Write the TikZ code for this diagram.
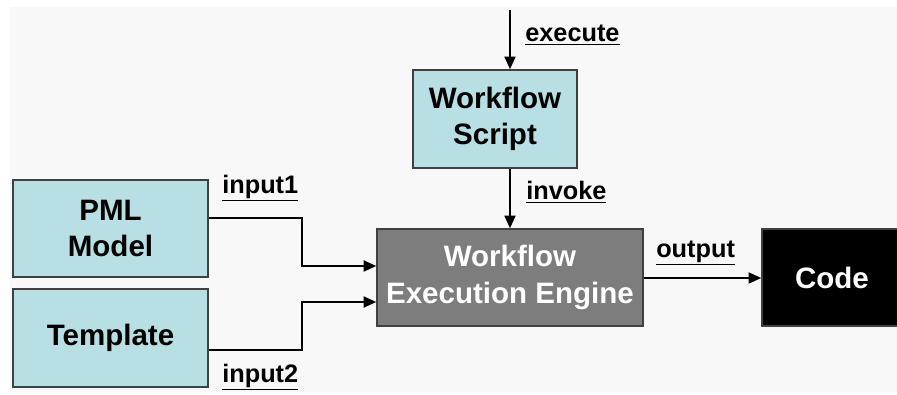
\documentclass[tikz,border=0pt]{standalone}
\usepackage{fontspec}
\setmainfont{Liberation Sans}
\usepackage{tikz}
\usetikzlibrary{positioning, arrows.meta}

\definecolor{boxblue}{RGB}{184,224,228}
\definecolor{enginegray}{RGB}{125,125,125}
\definecolor{bggray}{RGB}{248,248,248}

\tikzset{
    block/.style={draw=black!75, line width=1.2pt, fill=boxblue, align=center,
        inner sep=0pt, font=\fontsize{21}{26}\selectfont\bfseries},
    flow/.style={line width=1.1pt, -{Triangle[length=9pt, width=8pt]}},
    lbl/.style={font=\fontsize{18}{21}\selectfont\bfseries, inner sep=0pt}
}

\begin{document}
\begin{tikzpicture}[x=0.025cm, y=-0.025cm]
    \useasboundingbox (0,0) rectangle (897,395);
    \fill[bggray] (10,7) rectangle (897,392);

    % boxes
    \node[block, minimum width=164*0.025cm, minimum height=98*0.025cm] (script) at (495,119) {Workflow\\Script};
    \node[block, minimum width=195*0.025cm, minimum height=97*0.025cm] (pml) at (110.5,228.5) {PML\\Model};
    \node[block, minimum width=195*0.025cm, minimum height=98*0.025cm] (template) at (110.5,338) {Template};
    \node[block, fill=enginegray, text=white, minimum width=266*0.025cm, minimum height=97*0.025cm] (engine) at (510,277.5) {Workflow\\Execution Engine};
    \node[block, fill=black, text=white, minimum width=140*0.025cm, minimum height=97*0.025cm] (code) at (832,277.5) {Code};

    \coordinate (start) at (510,10);

    % connectors
    \draw[flow] (start) -- (script.north -| start);
    \draw[flow] (script.south -| start) -- (engine.north -| start);
    \draw[flow] (pml.east |- 0,218) -| (302,266) -- (engine.west |- 0,266);
    \draw[flow] (template.east |- 0,350) -| (302,302) -- (engine.west |- 0,302);
    \draw[flow] (engine.east |- 0,278) -- (code.west |- 0,278);

    % labels
    \node[lbl, anchor=west] (lexec) at (525,35) {\underline{execute}};
    \node[lbl, anchor=west] (linv) at (526,192) {\underline{invoke}};
    \node[lbl, anchor=west] (lin1) at (222,188) {\underline{input1}};
    \node[lbl, anchor=west] (lin2) at (222,377) {\underline{input2}};
    \node[lbl, anchor=west] (lout) at (656,253) {\underline{output}};
\end{tikzpicture}
\end{document}
